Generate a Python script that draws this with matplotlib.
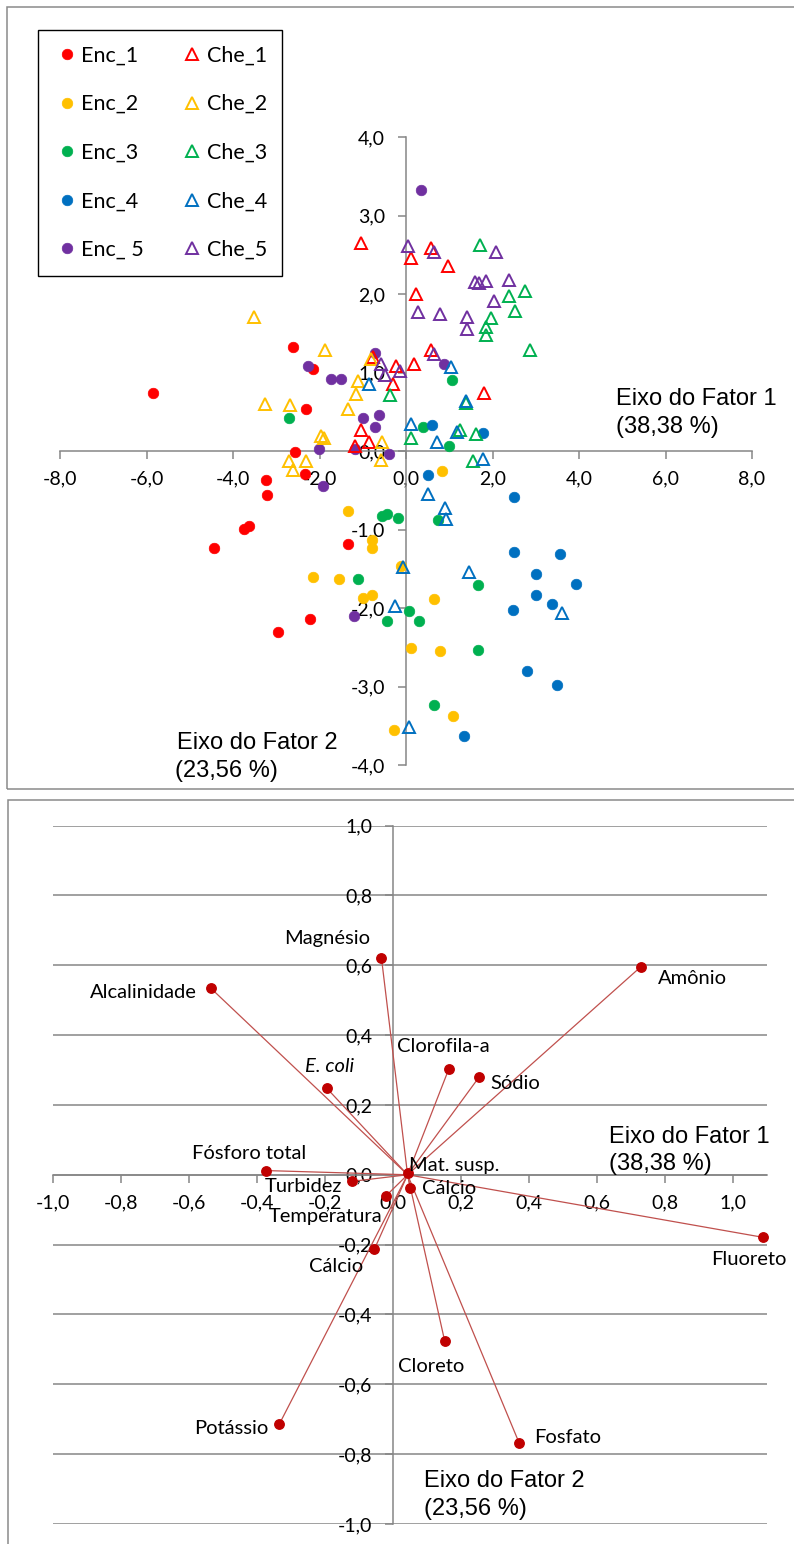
import matplotlib
matplotlib.use("Agg")
import matplotlib.pyplot as plt
from matplotlib.patches import Rectangle
from matplotlib.ticker import FuncFormatter

# ------------------------------------------------------------------ data
# Top chart: factor scores (Fator 1, Fator 2)
enc_1_x = [-2.61, -2.14, -5.86, -2.31, -2.56, -2.33, -3.24, -3.21, -3.75, -3.62, -1.33, -4.45, -2.21, -2.96]
enc_1_y = [1.32, 1.04, 0.74, 0.54, -0.01, -0.29, -0.37, -0.56, -0.99, -0.95, -1.18, -1.24, -2.14, -2.31]

enc_2_x = [-1.33, -0.79, -0.79, -0.11, -2.16, -1.54, -0.99, -0.79, 0.65, 0.83, 0.12, 0.79, -0.27, 1.09]
enc_2_y = [-0.77, -1.14, -1.23, -1.46, -1.61, -1.63, -1.87, -1.83, -1.88, -0.25, -2.51, -2.55, -3.55, -3.38]

enc_3_x = [-2.70, 0.39, 1.00, 1.06, -0.55, -0.44, -0.18, 0.73, -1.11, 1.66, 0.08, -0.44, 0.30, 1.66, 0.65]
enc_3_y = [0.42, 0.30, 0.06, 0.90, -0.83, -0.80, -0.85, -0.88, -1.63, -1.71, -2.04, -2.17, -2.17, -2.54, -3.24]

enc_4_x = [0.60, 1.78, 0.51, 2.50, 2.49, 3.57, 3.00, 3.94, 3.01, 3.37, 2.47, 2.80, 3.48, 1.35]
enc_4_y = [0.33, 0.23, -0.31, -0.59, -1.29, -1.31, -1.57, -1.69, -1.84, -1.95, -2.02, -2.80, -2.98, -3.63]

enc_5_x = [0.35, -0.71, -2.27, -1.73, -1.50, 0.89, -1.00, -0.62, -0.71, -1.19, -2.02, -0.40, -1.91, -1.20]
enc_5_y = [3.32, 1.25, 1.08, 0.92, 0.92, 1.11, 0.42, 0.46, 0.30, 0.03, 0.02, -0.04, -0.44, -2.10]

che_1_x = [-1.05, 0.58, 0.12, 0.96, 0.23, 0.58, -0.76, 0.18, -0.22, -0.31, 1.81, -1.04, -1.19, -0.86]
che_1_y = [2.65, 2.59, 2.46, 2.36, 2.00, 1.29, 1.20, 1.11, 1.08, 0.85, 0.74, 0.27, 0.06, 0.11]

che_2_x = [-3.51, -1.88, -0.82, -1.12, -1.15, -3.25, -2.69, -1.33, -1.96, -1.90, -0.55, -2.70, -2.31, -0.57, -2.61]
che_2_y = [1.71, 1.29, 1.17, 0.89, 0.72, 0.60, 0.58, 0.53, 0.19, 0.16, 0.11, -0.13, -0.13, -0.11, -0.24]

che_3_x = [1.72, 2.74, 2.37, 2.53, 1.97, 1.86, 1.86, 2.87, -0.38, 1.38, 0.12, 1.26, 1.63, 1.55]
che_3_y = [2.63, 2.04, 1.98, 1.78, 1.69, 1.58, 1.48, 1.29, 0.71, 0.61, 0.17, 0.27, 0.22, -0.13]

che_4_x = [-0.86, 1.05, 1.39, 0.12, 0.72, 1.19, 1.79, 0.50, 0.91, 0.93, -0.08, 1.46, -0.25, 3.61, 0.08]
che_4_y = [0.85, 1.07, 0.64, 0.35, 0.11, 0.24, -0.10, -0.55, -0.72, -0.87, -1.48, -1.54, -1.97, -2.07, -3.51]

che_5_x = [0.05, 0.65, 2.07, 1.59, 1.68, 1.86, 2.39, 2.04, 0.27, 0.78, 1.41, 1.42, 0.65, -0.57, -0.49, -0.15]
che_5_y = [2.61, 2.54, 2.53, 2.15, 2.14, 2.16, 2.18, 1.91, 1.77, 1.74, 1.71, 1.56, 1.24, 1.11, 0.97, 1.02]

enc_labels = ["Enc_1", "Enc_2", "Enc_3", "Enc_4", "Enc_ 5"]
che_labels = ["Che_1", "Che_2", "Che_3", "Che_4", "Che_5"]
series_colors = ["#FF0000", "#FFC000", "#00B050", "#0070C0", "#7030A0"]

top_x_ticks = [-8, -6, -4, -2, 0, 2, 4, 6, 8]
top_y_ticks = [-4, -3, -2, -1, 0, 1, 2, 3, 4]

# Bottom chart: variable loadings
var_names = ["Magnésio", "Amônio", "Alcalinidade", "Clorofila-a", "Sódio", "E. coli",
             "Fósforo total", "Mat. susp.", "Turbidez", "Cálcio", "Temperatura", "Cálcio",
             "Potássio", "Cloreto", "Fosfato", "Fluoreto"]
var_f1 = [-0.034, 0.729, -0.537, 0.164, 0.253, -0.195, -0.374, 0.043, -0.121, 0.051,
          -0.020, -0.055, -0.335, 0.152, 0.371, 1.088]
var_f2 = [0.622, 0.595, 0.535, 0.302, 0.279, 0.248, 0.012, 0.005, -0.019, -0.038,
          -0.060, -0.214, -0.715, -0.475, -0.767, -0.179]
vector_origin = [0.043, 0.0]

bottom_x_ticks = [-1.0, -0.8, -0.6, -0.4, -0.2, 0.0, 0.2, 0.4, 0.6, 0.8, 1.0]
bottom_y_ticks = [-1.0, -0.8, -0.6, -0.4, -0.2, 0.0, 0.2, 0.4, 0.6, 0.8, 1.0]

axis_title_f1 = ["Eixo do Fator 1", "(38,38 %)"]
axis_title_f2 = ["Eixo do Fator 2", "(23,56 %)"]

# ------------------------------------------------------------------ layout / style
W, H, DPI = 794, 1544, 100
GRAY = "#868686"
TICK_FONT = "Lato"
TITLE_FONT = "Liberation Sans"

# label placement (pixel offsets from point, alignment)
label_style = [(-11, 19, "right"), (17, -12, "left"), (-14, -5, "right"), (-52, 23, "left"),
               (11, -6, "left"), (3, 22, "center"), (-17, 17, "center"), (1, 8, "left"),
               (-10, -5, "right"), (12, 0, "left"), (-4, -21, "right"), (-11, -17, "right"),
               (-11, -4, "right"), (-13, -26, "center"), (15, 5, "left"), (-14, -22, "center")]


def fx(px):
    return px / W


def fy(py):
    return 1 - py / H


def comma_fmt(v, pos):
    v = round(v, 1)
    if v == 0:
        v = 0.0
    return f"{v:.1f}".replace(".", ",")


fig = plt.figure(figsize=(W / DPI, H / DPI), dpi=DPI)
fig.patch.set_facecolor("white")

# frames around each chart
fig.add_artist(Rectangle((fx(7), fy(789)), fx(800 - 7), fy(7) - fy(789), transform=fig.transFigure,
                         fill=False, edgecolor="#8a8a8a", linewidth=1.1))
fig.add_artist(Rectangle((fx(8), fy(1560)), fx(800 - 8), fy(800) - fy(1560), transform=fig.transFigure,
                         fill=False, edgecolor="#8a8a8a", linewidth=1.1))

# ------------------------------------------------------------------ top chart
ax1 = fig.add_axes([fx(60), fy(765), fx(752 - 60), fy(137) - fy(765)])
ax1.set_xlim(-8, 8)
ax1.set_ylim(-4, 4)
ax1.patch.set_alpha(0)
for s in ["top", "right"]:
    ax1.spines[s].set_visible(False)
ax1.spines["left"].set_position(("data", 0))
ax1.spines["bottom"].set_position(("data", 0))
for s in ["left", "bottom"]:
    ax1.spines[s].set_color(GRAY)
    ax1.spines[s].set_linewidth(1.1)
ax1.set_xticks(top_x_ticks)
ax1.set_yticks(top_y_ticks)
ax1.xaxis.set_major_formatter(FuncFormatter(comma_fmt))
ax1.yaxis.set_major_formatter(FuncFormatter(comma_fmt))
ax1.tick_params(axis="both", direction="out", length=6, width=1.1, color=GRAY,
                labelsize=14, labelcolor="black")
ax1.tick_params(axis="x", pad=8)
ax1.tick_params(axis="y", pad=9)
for lab in ax1.get_xticklabels() + ax1.get_yticklabels():
    lab.set_fontfamily(TICK_FONT)

enc_x = [enc_1_x, enc_2_x, enc_3_x, enc_4_x, enc_5_x]
enc_y = [enc_1_y, enc_2_y, enc_3_y, enc_4_y, enc_5_y]
che_x = [che_1_x, che_2_x, che_3_x, che_4_x, che_5_x]
che_y = [che_1_y, che_2_y, che_3_y, che_4_y, che_5_y]

handles = []
for i in range(5):
    h, = ax1.plot(enc_x[i], enc_y[i], ls="none", marker="o", markersize=7.6,
                  markerfacecolor=series_colors[i], markeredgecolor=series_colors[i],
                  markeredgewidth=0.5, clip_on=False, zorder=3)
    handles.append(h)
che_handles = []
for i in range(5):
    h, = ax1.plot(che_x[i], che_y[i], ls="none", marker="^", markersize=8.5,
                  markerfacecolor="none", markeredgecolor=series_colors[i],
                  markeredgewidth=1.4, clip_on=False, zorder=3)
    che_handles.append(h)

leg = ax1.legend(handles + che_handles, enc_labels + che_labels, ncol=2,
                 loc="upper left", bbox_to_anchor=(fx(38), fy(30)),
                 bbox_transform=fig.transFigure, borderaxespad=0,
                 prop={"family": TICK_FONT, "size": 15.5},
                 frameon=True, fancybox=False, edgecolor="black", framealpha=1,
                 borderpad=0.72, labelspacing=1.33, handlelength=1.25, handletextpad=0.05,
                 columnspacing=1.6)
leg.get_frame().set_linewidth(1.0)
leg.set_zorder(10)

# axis titles (top)
fig.text(fx(616), fy(405), axis_title_f1[0], family=TITLE_FONT, fontsize=17, va="baseline")
fig.text(fx(616), fy(433), axis_title_f1[1], family=TITLE_FONT, fontsize=17, va="baseline")
fig.text(fx(177), fy(749), axis_title_f2[0], family=TITLE_FONT, fontsize=17, va="baseline")
fig.text(fx(175), fy(777), axis_title_f2[1], family=TITLE_FONT, fontsize=17, va="baseline")

# ------------------------------------------------------------------ bottom chart
ax2 = fig.add_axes([fx(53.2), fy(1524), fx(766.7 - 53.2), fy(825.5) - fy(1524)])
ax2.set_xlim(-1.0, 1.1)
ax2.set_ylim(-1.0, 1.0)
ax2.patch.set_alpha(0)
for s in ["top", "right"]:
    ax2.spines[s].set_visible(False)
ax2.spines["left"].set_position(("data", 0))
ax2.spines["bottom"].set_position(("data", 0))
for s in ["left", "bottom"]:
    ax2.spines[s].set_color(GRAY)
    ax2.spines[s].set_linewidth(1.1)
ax2.set_xticks(bottom_x_ticks)
ax2.set_yticks(bottom_y_ticks)
ax2.xaxis.set_major_formatter(FuncFormatter(comma_fmt))
ax2.yaxis.set_major_formatter(FuncFormatter(comma_fmt))
ax2.tick_params(axis="both", direction="out", length=6, width=1.1, color=GRAY,
                labelsize=14, labelcolor="black")
ax2.tick_params(axis="x", pad=8)
ax2.tick_params(axis="y", pad=9)
for lab in ax2.get_xticklabels() + ax2.get_yticklabels():
    lab.set_fontfamily(TICK_FONT)
ax2.yaxis.grid(True, color=GRAY, linewidth=1.1)
ax2.set_axisbelow(True)

for xv, yv in zip(var_f1, var_f2):
    ax2.plot([vector_origin[0], xv], [vector_origin[1], yv], color="#C0504D",
             linewidth=0.9, zorder=3, clip_on=False)
ax2.plot(var_f1, var_f2, ls="none", marker="o", markersize=6.8, color="#C00000",
         zorder=4, clip_on=False)

for name, xv, yv, (dx, dy, ha) in zip(var_names, var_f1, var_f2, label_style):
    style = "italic" if name == "E. coli" else "normal"
    ax2.annotate(name, (xv, yv), xytext=(dx, dy), textcoords="offset pixels",
                 ha=ha, va="center", fontsize=14.5, family=TICK_FONT, style=style, zorder=5)

fig.text(fx(609), fy(1143), axis_title_f1[0], family=TITLE_FONT, fontsize=17, va="baseline")
fig.text(fx(609), fy(1170), axis_title_f1[1], family=TITLE_FONT, fontsize=17, va="baseline")
fig.text(fx(424), fy(1487), axis_title_f2[0], family=TITLE_FONT, fontsize=17, va="baseline")
fig.text(fx(424), fy(1515), axis_title_f2[1], family=TITLE_FONT, fontsize=17, va="baseline")

fig.savefig("out.png", dpi=DPI, facecolor="white")
